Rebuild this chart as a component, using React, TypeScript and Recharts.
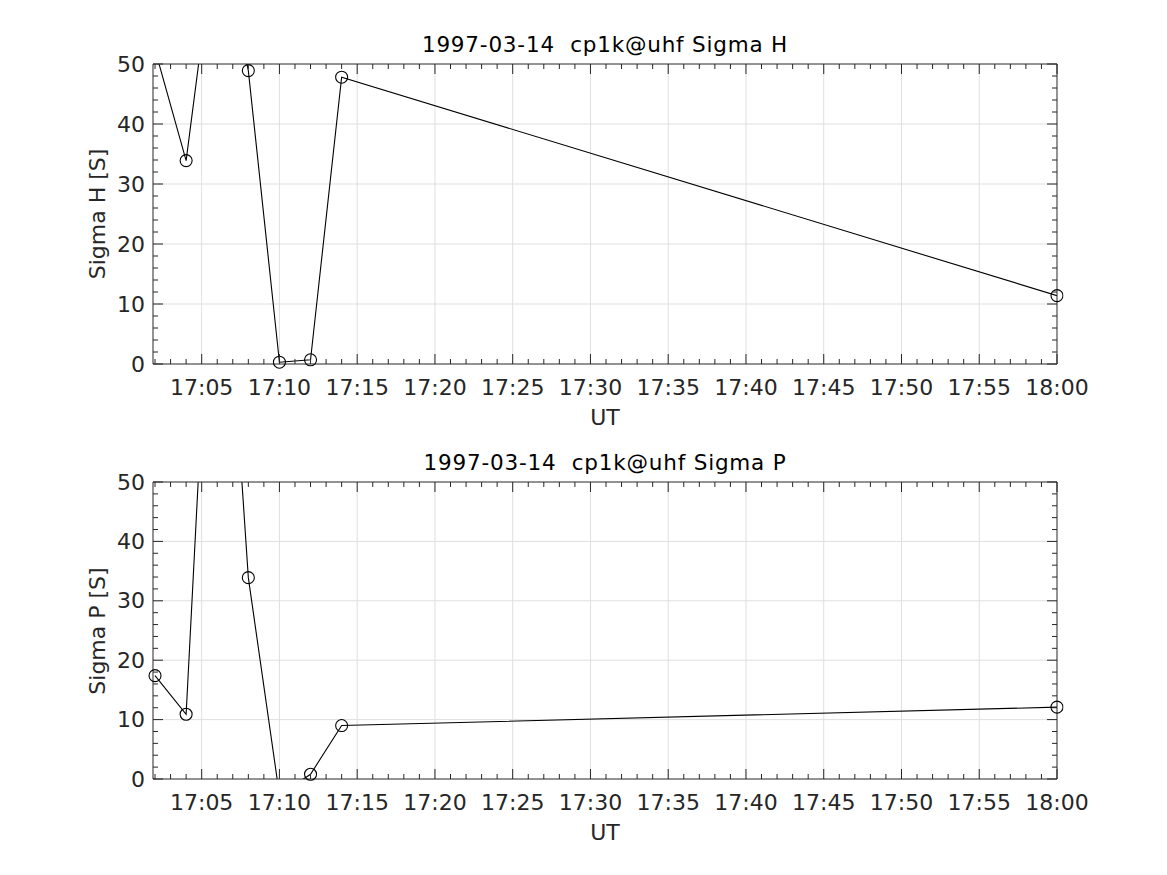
import { LineChart, Line, XAxis, YAxis, ReferenceLine } from 'recharts';

// minutes after 17:00 UT
const times = [2, 4, 6, 8, 10, 12, 14, 60];
const sigmaH = [52.4, 33.9, 74, 48.9, 0.3, 0.7, 47.8, 11.4];
const sigmaP = [17.4, 10.9, 112, 33.9, -2.7, 0.8, 9.0, 12.1];

const xMajor = [5, 10, 15, 20, 25, 30, 35, 40, 45, 50, 55, 60];
const xGrid = [5, 10, 15, 20, 25, 30, 35, 40, 45, 50, 55];
const yMajor = [0, 10, 20, 30, 40, 50];
const yGrid = [10, 20, 30, 40];
const xMinor = Array.from({ length: 59 }, (_, i) => i + 2);
const yMinor = Array.from({ length: 26 }, (_, i) => i * 2);

const AX = '#262626';
const GRID = '#dfdfdf';
const FONT = '"DejaVu Sans", sans-serif';
const TS = 6; // recharts tick size, subtracted in the custom ticks

const fmtTime = (m: number) => {
  const h = 17 + Math.floor(m / 60);
  const mm = m % 60;
  return `${h}:${mm < 10 ? '0' + mm : mm}`;
};

const BottomTick = (props: any) => {
  const { x, payload } = props;
  const y = props.y - TS;
  const major = xMajor.includes(payload.value);
  return (
    <g>
      <line x1={x} x2={x} y1={y} y2={y - (major ? 10 : 5)} stroke={AX} />
      {major && (
        <text x={x} y={y + 23} textAnchor="middle" dominantBaseline="central" fill={AX} fontSize={22} fontFamily={FONT}>
          {fmtTime(payload.value)}
        </text>
      )}
    </g>
  );
};

const TopTick = (props: any) => {
  const { x, payload } = props;
  const y = props.y + TS;
  const major = xMajor.includes(payload.value);
  return <line x1={x} x2={x} y1={y} y2={y + (major ? 10 : 5)} stroke={AX} />;
};

const LeftTick = (props: any) => {
  const { y, payload } = props;
  const x = props.x + TS;
  const major = yMajor.includes(payload.value);
  return (
    <g>
      <line x1={x} x2={x + (major ? 10 : 5)} y1={y} y2={y} stroke={AX} />
      {major && (
        <text x={x - 8} y={y} textAnchor="end" dominantBaseline="central" fill={AX} fontSize={22} fontFamily={FONT}>
          {payload.value}
        </text>
      )}
    </g>
  );
};

const RightTick = (props: any) => {
  const { y, payload } = props;
  const x = props.x - TS;
  const major = yMajor.includes(payload.value);
  return <line x1={x} x2={x - (major ? 10 : 5)} y1={y} y2={y} stroke={AX} />;
};

function Panel({ values, title, ylabel, top, xHeight }: { values: number[]; title: string; ylabel: string; top: number; xHeight: number }) {
  const data = times.map((t, i) => ({ t, v: values[i] }));
  const height = 420;
  const plotTop = top + 64;
  const plotBottom = top + height - xHeight;
  return (
    <>
      <div style={{ position: 'absolute', left: 605, top: plotTop - 20, transform: 'translate(-50%, -50%)', whiteSpace: 'pre', fontFamily: FONT, fontSize: 21.5, letterSpacing: 0.8, color: '#000' }}>
        {title}
      </div>
      <div style={{ position: 'absolute', left: 97, top: (plotTop + plotBottom) / 2, transform: 'translate(-50%, -50%) rotate(-90deg)', whiteSpace: 'pre', fontFamily: FONT, fontSize: 22, color: AX }}>
        {ylabel}
      </div>
      <div style={{ position: 'absolute', left: 605, top: plotBottom + 53, transform: 'translate(-50%, -50%)', fontFamily: FONT, fontSize: 22, color: AX }}>
        UT
      </div>
      <div style={{ position: 'absolute', left: 0, top }}>
        <LineChart width={1167} height={height} data={data} margin={{ top: 63, right: 109, bottom: 0, left: 0 }}>
          <XAxis dataKey="t" type="number" domain={[1.87, 60]} allowDataOverflow ticks={xMinor} interval={0} tickSize={TS} tickMargin={0} tickLine={false} tick={BottomTick} height={xHeight} stroke={AX} />
          <XAxis xAxisId="top" dataKey="t" orientation="top" type="number" domain={[1.87, 60]} allowDataOverflow ticks={xMinor} interval={0} tickSize={TS} tickMargin={0} tickLine={false} tick={TopTick} height={1} stroke={AX} />
          <YAxis type="number" domain={[0, 50]} allowDataOverflow ticks={yMinor} interval={0} tickSize={TS} tickMargin={0} tickLine={false} tick={LeftTick} width={153} stroke={AX} />
          <YAxis yAxisId="right" orientation="right" type="number" domain={[0, 50]} allowDataOverflow ticks={yMinor} interval={0} tickSize={TS} tickMargin={0} tickLine={false} tick={RightTick} width={1} stroke={AX} />
          {xGrid.map((t) => (
            <ReferenceLine key={'x' + t} x={t} stroke={GRID} />
          ))}
          {yGrid.map((v) => (
            <ReferenceLine key={'y' + v} y={v} stroke={GRID} />
          ))}
          <Line
            xAxisId="top"
            yAxisId="right"
            dataKey="v"
            stroke="none"
            dot={false}
            activeDot={false}
            legendType="none"
            isAnimationActive={false}
          />
          <Line
            dataKey="v"
            stroke="#000"
            strokeWidth={1.1}
            dot={{ r: 6, fill: 'none', stroke: '#000', strokeWidth: 1.1, clipDot: false }}
            activeDot={false}
            isAnimationActive={false}
          />
        </LineChart>
      </div>
    </>
  );
}

export default function App() {
  return (
    <div style={{ position: 'absolute', left: 0, top: 0, width: 1167, height: 875, background: '#fff' }}>
      <Panel values={sigmaH} title="1997-03-14  cp1k@uhf Sigma H" ylabel="Sigma H [S]" top={0} xHeight={56} />
      <Panel values={sigmaP} title="1997-03-14  cp1k@uhf Sigma P" ylabel="Sigma P [S]" top={418} xHeight={59} />
    </div>
  );
}
